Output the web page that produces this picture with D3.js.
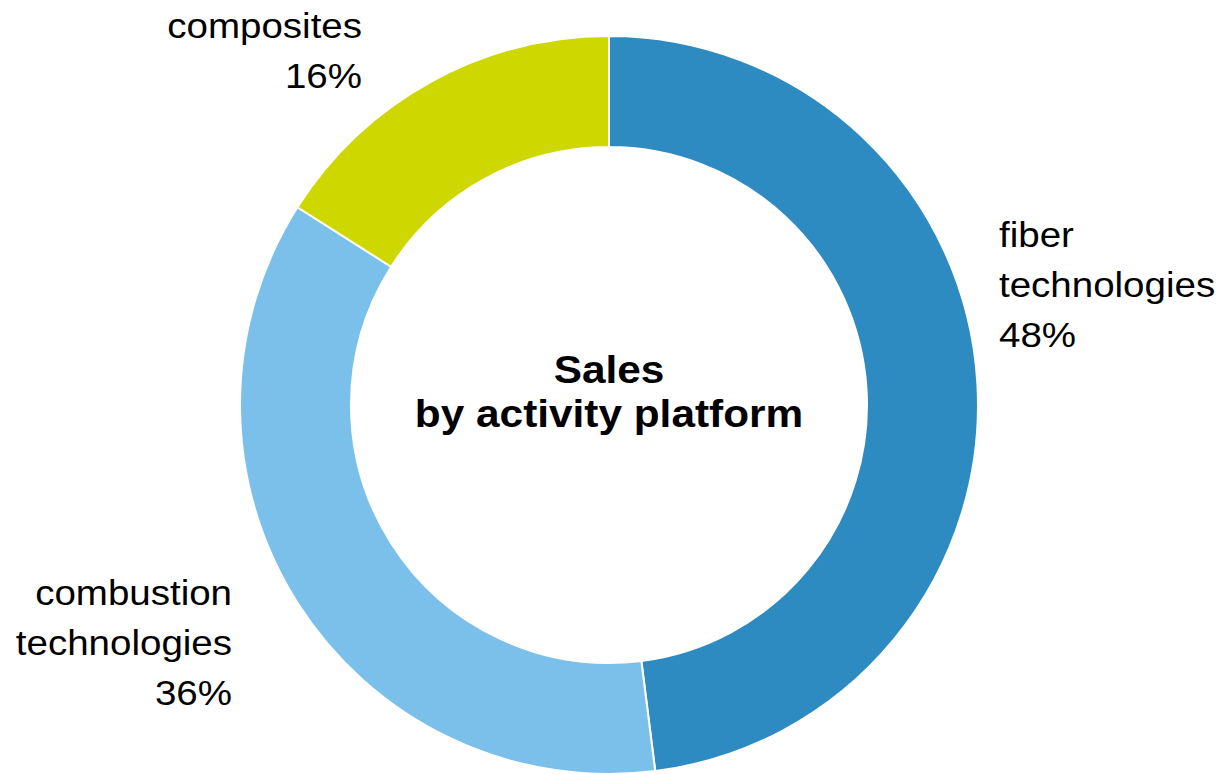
<!DOCTYPE html>
<html>
<head>
<meta charset="utf-8">
<script src="https://cdn.jsdelivr.net/npm/d3@7"></script>
<style>
  html, body { margin: 0; padding: 0; background: #fff; }
  svg { display: block; }
  text { font-family: "Liberation Sans", Arial, sans-serif; fill: #000; }
</style>
</head>
<body>
<svg id="chart" width="1223" height="774"></svg>
<script>
// Sales split by activity platform (percent)
const categories = ["fiber technologies", "combustion technologies", "composites"];
const shares = [48, 36, 16];
const colors = ["#2E8BC1", "#7BC0EB", "#CFD700"];
const labelLines = [["fiber", "technologies", "48%"], ["combustion", "technologies", "36%"], ["composites", "16%"]];
const centerTitle = ["Sales", "by activity platform"];

const svg = d3.select("#chart");
const cx = 609, cy = 405;
const outerR = 369, innerR = 258;

const pie = d3.pie().value(d => d).sort(null);
const arc = d3.arc().innerRadius(innerR).outerRadius(outerR);
const color = d3.scaleOrdinal().domain(categories).range(colors);

const g = svg.append("g").attr("transform", `translate(${cx},${cy})`);
g.selectAll("path")
  .data(pie(shares))
  .join("path")
  .attr("d", arc)
  .attr("fill", (d, i) => color(categories[i]))
  .attr("stroke", "#fff")
  .attr("stroke-width", 2);

// Category labels placed beside the ring
const labelPos = [
  { x: 999, y: 247, anchor: "start" },
  { x: 232, y: 605, anchor: "end" },
  { x: 362, y: 38, anchor: "end" }
];
labelLines.forEach((lines, i) => {
  const p = labelPos[i];
  const t = svg.append("g")
    .attr("transform", `translate(${p.x},${p.y}) scale(1.1,1)`)
    .append("text")
    .attr("text-anchor", p.anchor)
    .style("font-size", "35px");
  lines.forEach((ln, j) => {
    t.append("tspan").attr("x", 0).attr("y", j * 50).text(ln);
  });
});

// Title in the hole
const title = svg.append("g")
  .attr("transform", `translate(${cx},383) scale(1.1,1)`)
  .append("text")
  .attr("text-anchor", "middle")
  .style("font-size", "38.5px")
  .style("font-weight", "bold");
centerTitle.forEach((ln, j) => {
  title.append("tspan").attr("x", 0).attr("y", j * 44).text(ln);
});
</script>
</body>
</html>
